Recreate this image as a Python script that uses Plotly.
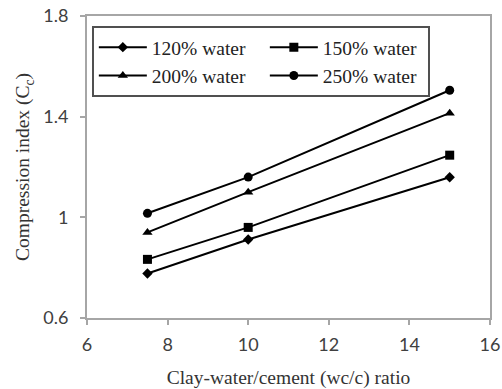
import plotly.graph_objects as go

wc_ratio = [7.5, 10, 15]
series_names = ["120% water", "150% water", "200% water", "250% water"]
cc_120 = [0.777, 0.912, 1.159]
cc_150 = [0.833, 0.960, 1.247]
cc_200 = [0.940, 1.100, 1.414]
cc_250 = [1.016, 1.160, 1.505]
x_ticks = [6, 8, 10, 12, 14, 16]
y_ticks = [0.6, 1.0, 1.4, 1.8]
y_tick_labels = ["0.6", "1", "1.4", "1.8"]

symbols = ["diamond", "square", "triangle-up", "circle"]
sizes = [8, 9, 9, 9]
values = [cc_120, cc_150, cc_200, cc_250]
legend_widths = [108, 100, 108, 100]

fig = go.Figure()
for name, vals, sym, sz, lw in zip(series_names, values, symbols, sizes, legend_widths):
    fig.add_trace(go.Scatter(
        x=wc_ratio, y=vals, name=name, mode="lines+markers",
        line=dict(color="black", width=2),
        marker=dict(symbol=sym, size=sz, color="black"),
        legendwidth=lw,
    ))

serif = "Liberation Serif, Times New Roman, serif"
axis_common = dict(
    showgrid=False, zeroline=False, showline=True, mirror=True,
    linecolor="#a6a6a6", linewidth=2, ticks="outside", tickcolor="#a6a6a6",
    ticklen=5, tickwidth=1.5, automargin=False,
    tickfont=dict(family="Lato, Liberation Sans, sans-serif", size=18, color="#404040"),
)

fig.update_layout(
    width=502, height=389,
    margin=dict(l=87, r=12, t=16, b=71),
    plot_bgcolor="white", paper_bgcolor="white",
    xaxis=dict(range=[6, 16], tickvals=x_ticks, ticklabelstandoff=4,
               title=dict(text="Clay-water/cement (wc/c) ratio",
                          font=dict(family=serif, size=19.5, color="#333"),
                          standoff=18),
               **axis_common),
    yaxis=dict(range=[0.6, 1.8], tickvals=y_ticks, ticktext=y_tick_labels,
               ticklabelstandoff=8,
               title=dict(text="Compression index (C<sub>c</sub>)",
                          font=dict(family=serif, size=19.5, color="#333"),
                          standoff=8),
               **axis_common),
    legend=dict(
        orientation="h", x=0.012, y=0.967, xanchor="left", yanchor="top",
        bgcolor="white", bordercolor="#505050", borderwidth=2,
        font=dict(family=serif, size=19.5, color="#222"),
        itemwidth=48,
    ),
    showlegend=True,
)

fig.write_html("out.html")
